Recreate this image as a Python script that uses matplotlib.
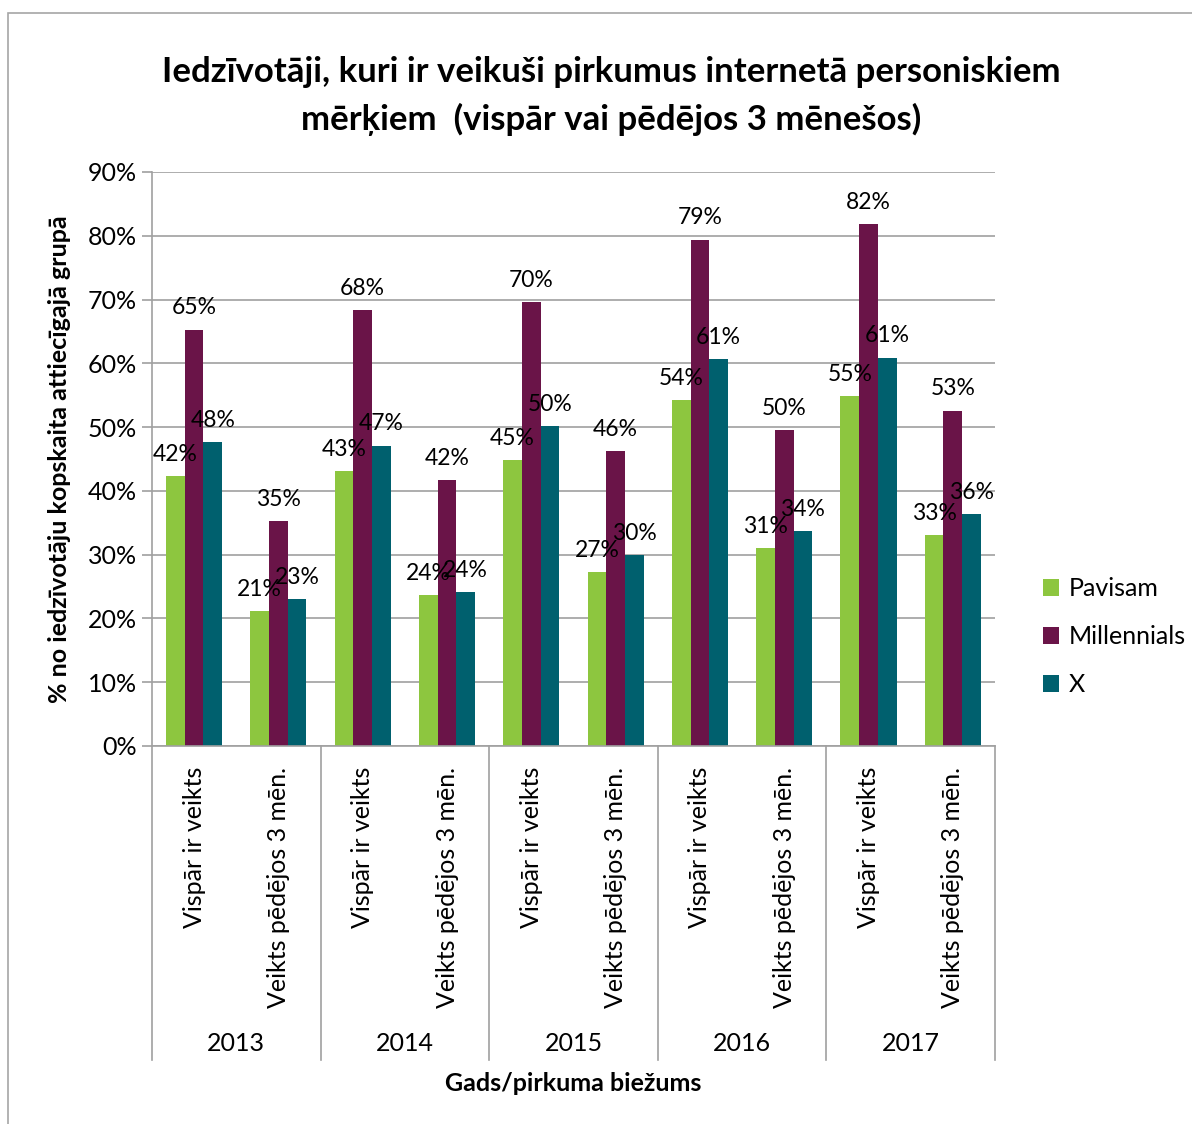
import numpy as np
import matplotlib.pyplot as plt
import matplotlib.transforms as mtransforms
from matplotlib.patches import Rectangle

plt.rcParams['font.family'] = ['Lato', 'DejaVu Sans']

years = ['2013', '2014', '2015', '2016', '2017']
kinds = ['Vispār ir veikts', 'Veikts pēdējos 3 mēn.']

# values per category: (year, kind) in order 2013 V, 2013 P, 2014 V, ...
pavisam     = [42.3, 21.2, 43.1, 23.7, 44.9, 27.3, 54.3, 31.1, 54.9, 33.1]
millennials = [65.3, 35.3, 68.4, 41.7, 69.6, 46.2, 79.4, 49.6, 81.9, 52.6]
gen_x       = [47.7, 23.0, 47.1, 24.2, 50.2, 30.0, 60.6, 33.7, 60.9, 36.4]

series = [('Pavisam', pavisam, '#8DC63F'),
          ('Millennials', millennials, '#6A1448'),
          ('X', gen_x, '#00606E')]

fig = plt.figure(figsize=(11.92, 11.24), dpi=100)
ax = fig.add_axes([0.1275, 0.3363, 0.7072, 0.5107])

# outer chart frame
fig.patches.append(Rectangle((0.007, -0.01), 1.2, 0.998, transform=fig.transFigure,
                             fill=False, edgecolor='#A6A6A6', lw=1.2))

x = np.arange(len(pavisam))
w = 0.222
for i, (name, vals, col) in enumerate(series):
    pos = x + (i - 1) * w
    ax.bar(pos, vals, width=w, color=col, label=name, zorder=2)
    for p, v in zip(pos, vals):
        ax.annotate(f'{v:.0f}%', (p, v), xytext=(0, 8), textcoords='offset points',
                    ha='center', va='bottom', fontsize=16.5, zorder=3)

ax.set_xlim(-0.5, len(x) - 0.5)
ax.set_ylim(0, 90)
ax.set_yticks(np.arange(0, 91, 10))
ax.set_yticklabels([f'{t}%' for t in range(0, 91, 10)], fontsize=18)
ax.yaxis.grid(True, color='#A0A0A0', lw=1.2, zorder=0)
ax.tick_params(axis='y', length=7, color='#A0A0A0', width=1.2, pad=4)
ax.tick_params(axis='x', bottom=False, labelbottom=False)
for s in ['top', 'right']:
    ax.spines[s].set_visible(False)
for s in ['left', 'bottom']:
    ax.spines[s].set_color('#A0A0A0')
    ax.spines[s].set_linewidth(1.2)

# two-level category axis
trans = mtransforms.blended_transform_factory(ax.transData, ax.transAxes)
for b in np.arange(-0.5, len(x), 2):
    ax.plot([b, b], [0, -0.547], transform=trans, color='#A0A0A0', lw=1.2,
            clip_on=False)
for i in x:
    ax.text(i, -0.036, kinds[i % 2], transform=trans, rotation=90,
            ha='center', va='top', fontsize=18)
for j, yr in enumerate(years):
    ax.text(2 * j + 0.5, -0.519, yr, transform=trans, ha='center', va='center',
            fontsize=18)

ax.set_ylabel('% no iedzīvotāju kopskaita attiecīgajā grupā', fontsize=18,
              fontweight='bold', labelpad=12)
fig.text(0.481, 0.036, 'Gads/pirkuma biežums', ha='center', va='center',
         fontsize=18, fontweight='bold')
fig.text(0.513, 0.915, 'Iedzīvotāji, kuri ir veikuši pirkumus internetā personiskiem\n'
         'mērķiem  (vispār vai pēdējos 3 mēnešos)', ha='center', va='center',
         fontsize=25, fontweight='bold', linespacing=1.55)

ax.legend(loc='center left', bbox_to_anchor=(1.03, 0.19), frameon=False,
          fontsize=18, handlelength=0.65, handleheight=0.65, handletextpad=0.4,
          labelspacing=1.0)

fig.savefig('out.png', dpi=100)
